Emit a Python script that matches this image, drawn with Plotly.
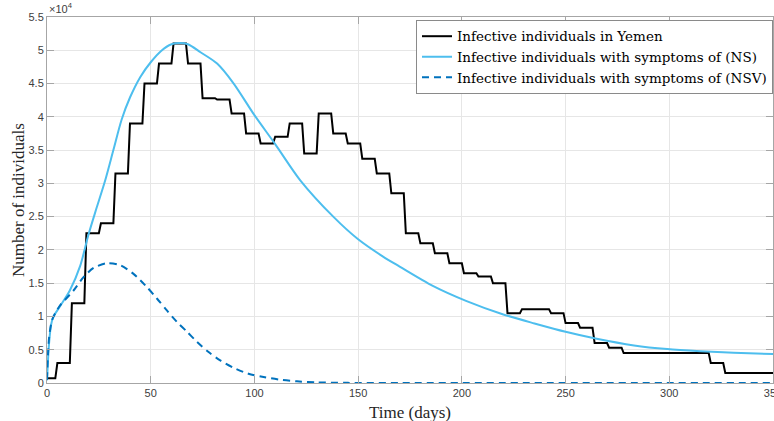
import plotly.graph_objects as go

# ---------------- data ----------------
# Weekly reported infective individuals in Yemen (step levels)
week_start_days = [0] + [5 + 7 * k for k in range(47)]
yemen_weekly = [700, 3000, 12000, 22500, 24000, 31500, 39000, 45000, 48000, 51000,
                48000, 42800, 42600, 40500, 37500, 36000, 37000, 39000, 34500, 40500,
                37500, 36000, 33700, 31500, 28500, 22500, 21000, 19500, 18000, 16500,
                16000, 15000, 10500, 11100, 11100, 10500, 9000, 8300, 6000, 5300,
                4500, 4500, 4500, 4500, 4500, 4500, 3000, 1500]
end_day = 350

# Model: infective individuals with symptoms (NS)
ns_days = [0, 1, 2, 3, 6, 11, 16, 20, 24, 28, 32, 36, 40, 45, 50, 55, 60, 64, 68, 74,
           82, 90, 100, 110, 122, 138, 150, 162, 170, 186, 202, 220, 235, 250,
           265, 283, 299, 315, 331, 350]
ns_values = [400, 6000, 8800, 9900, 11400, 13900, 17600, 22300, 26400, 30400, 35000,
             39600, 42900, 46000, 48200, 49900, 50900, 51100, 50900, 49700, 48000,
             45000, 40250, 35900, 30500, 25000, 21600, 19000, 17500, 14600,
             12350, 10300, 8950, 7700, 6650, 5650, 5100, 4780, 4550, 4350]

# Model: infective individuals with symptoms (NSV)
nsv_days = [0, 1, 2.4, 4, 6.4, 12.8, 17.6, 22.5, 28.9, 35.3, 41.7, 48.2, 53, 57.8,
            62.6, 67.5, 72.3, 77.9, 83.5, 89.9, 97.1, 104.4, 112.4, 120.5, 130, 145,
            170, 350]
nsv_values = [500, 6800, 9400, 10500, 11700, 13900, 15900, 17300, 18000, 17700, 16400,
              14400, 12700, 10900, 9200, 7700, 6200, 4650, 3400, 2300, 1400, 900, 500,
              250, 100, 20, 0, 0]

x_ticks = [0, 50, 100, 150, 200, 250, 300, 350]
y_tick_values = [0, 5000, 10000, 15000, 20000, 25000, 30000, 35000, 40000, 45000, 50000, 55000]
y_tick_labels = ["0", "0.5", "1", "1.5", "2", "2.5", "3", "3.5", "4", "4.5", "5", "5.5"]

legend_names = ["Infective individuals in Yemen",
                "Infective individuals with symptoms of (NS)",
                "Infective individuals with symptoms of (NSV)"]

# ---------------- build step line ----------------
x_black, y_black = [], []
for i, v in enumerate(yemen_weekly):
    start = week_start_days[i]
    end = week_start_days[i + 1] - 1 if i + 1 < len(yemen_weekly) else end_day
    x_black += [start, end]
    y_black += [v, v]

fig = go.Figure()
fig.add_trace(go.Scatter(x=x_black, y=y_black, mode="lines", name=legend_names[0],
                         line=dict(color="#000000", width=2)))
fig.add_trace(go.Scatter(x=ns_days, y=ns_values, mode="lines", name=legend_names[1],
                         line=dict(color="#4DBEEE", width=2, shape="spline", smoothing=0.8)))
fig.add_trace(go.Scatter(x=nsv_days, y=nsv_values, mode="lines", name=legend_names[2],
                         line=dict(color="#0072BD", width=2, dash="7px,5px",
                                   shape="spline", smoothing=0.8)))

tick_font = dict(family="Liberation Sans, Arial, sans-serif", size=11, color="#404040")
serif = "Liberation Serif, Times New Roman, serif"

fig.update_layout(
    width=774, height=421,
    margin=dict(l=47, r=1, t=17, b=38, autoexpand=False),
    paper_bgcolor="white", plot_bgcolor="white",
    showlegend=True,
    legend=dict(x=1, xanchor="right", y=0.992, yanchor="top",
                bgcolor="white", bordercolor="#8a8a8a", borderwidth=1,
                font=dict(family="DejaVu Serif, serif", size=13.5, color="#000000"),
                itemwidth=30, tracegroupgap=0),
    xaxis=dict(range=[0, 350], tickvals=x_ticks, ticktext=[str(t) for t in x_ticks],
               showgrid=True, gridcolor="#e6e6e6", gridwidth=1,
               showline=True, linecolor="#a6a6a6", linewidth=1, mirror="ticks",
               ticks="inside", ticklen=7, tickcolor="#a6a6a6",
               ticklabeloverflow="allow", automargin=False,
               tickfont=tick_font, zeroline=False),
    yaxis=dict(range=[0, 55000], tickvals=y_tick_values, ticktext=y_tick_labels,
               showgrid=True, gridcolor="#e6e6e6", gridwidth=1,
               showline=True, linecolor="#a6a6a6", linewidth=1, mirror="ticks",
               ticks="inside", ticklen=7, tickcolor="#a6a6a6", automargin=False,
               tickfont=tick_font, zeroline=False),
    annotations=[
        dict(text="×10<sup>4</sup>", xref="paper", yref="paper", x=0, y=1,
             xanchor="left", yanchor="bottom", showarrow=False,
             font=dict(family="Liberation Sans, Arial, sans-serif", size=11, color="#404040")),
        dict(text="Time (days)", xref="paper", yref="paper", x=0.5, y=0,
             xanchor="center", yanchor="top", yshift=-18, showarrow=False,
             font=dict(family=serif, size=17, color="#262626")),
        dict(text="Number of individuals", xref="paper", yref="paper", x=0, y=0.5,
             xanchor="center", yanchor="middle", xshift=-29, textangle=-90, showarrow=False,
             font=dict(family=serif, size=17, color="#262626")),
    ],
)

fig.write_html("out.html", config={"displayModeBar": False},
               post_script="document.body.style.margin='0';document.body.style.padding='0';")
